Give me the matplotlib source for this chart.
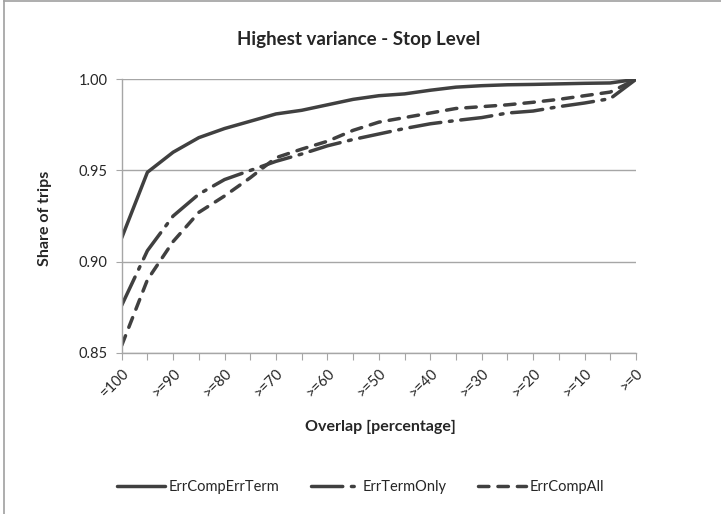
import matplotlib.pyplot as plt
from matplotlib.lines import Line2D

plt.rcParams['font.family'] = ['Lato', 'DejaVu Sans']

# overlap categories, from =100 down to >=0 in steps of 5
overlap = list(range(100, -1, -5))
tick_labels = ["=100" if v == 100 else (">=%d" % v if v % 10 == 0 else "") for v in overlap]

err_comp_err_term = [0.913, 0.949, 0.960, 0.968, 0.973, 0.977, 0.981, 0.983, 0.986, 0.989, 0.991,
                     0.992, 0.994, 0.9957, 0.9965, 0.997, 0.9972, 0.9975, 0.9978, 0.998, 1.0]
err_term_only = [0.876, 0.906, 0.925, 0.937, 0.945, 0.950, 0.955, 0.959, 0.9635, 0.967, 0.970,
                 0.973, 0.9756, 0.9774, 0.979, 0.9815, 0.9826, 0.985, 0.987, 0.9894, 1.0]
err_comp_all = [0.854, 0.890, 0.911, 0.927, 0.936, 0.946, 0.957, 0.9617, 0.966, 0.972, 0.9765,
                0.979, 0.9815, 0.984, 0.985, 0.986, 0.9874, 0.989, 0.991, 0.993, 1.0]

line_col = "#404040"
grid_col = "#a6a6a6"

fig = plt.figure(figsize=(7.21, 5.14), dpi=100)
ax = fig.add_axes([0.1688, 0.3138, 0.7133, 0.5319])

x = list(range(len(overlap)))
ax.plot(x, err_comp_err_term, color=line_col, lw=2.5, solid_capstyle="round",
        solid_joinstyle="round", label="ErrCompErrTerm")
ax.plot(x, err_term_only, color=line_col, lw=2.5, dashes=(9, 2.5, 0.8, 2.5),
        dash_capstyle="round", label="ErrTermOnly")
ax.plot(x, err_comp_all, color=line_col, lw=2.5, dashes=(3, 2.6),
        dash_capstyle="round", label="ErrCompAll")

ax.set_xlim(0, len(overlap) - 1)
ax.set_ylim(0.85, 1.0)
ax.set_yticks([0.85, 0.90, 0.95, 1.00])
ax.set_yticklabels(["0.85", "0.90", "0.95", "1.00"], fontsize=10.5, color="#262626")
ax.set_xticks(x)
ax.set_xticklabels(tick_labels, rotation=45, ha="right", va="top", rotation_mode="anchor",
                   fontsize=10.5, color="#262626")
ax.tick_params(axis="x", length=5, color=grid_col, pad=5)
ax.tick_params(axis="y", length=4, color=grid_col, pad=6)
ax.yaxis.grid(True, color=grid_col, lw=1)
ax.set_axisbelow(True)
for s in ["top", "right"]:
    ax.spines[s].set_visible(False)
for s in ["left", "bottom"]:
    ax.spines[s].set_color(grid_col)
    ax.spines[s].set_linewidth(1)

fig.text(0.497, 0.923, "Highest variance - Stop Level", ha="center", va="center",
         fontsize=13.5, fontweight="bold", color="#262626")
fig.text(0.528, 0.17, "Overlap [percentage]", ha="center", va="center",
         fontsize=11.5, fontweight="bold", color="#262626")
fig.text(0.062, 0.575, "Share of trips", ha="center", va="center", rotation=90,
         fontsize=11.5, fontweight="bold", color="#262626")

leg = fig.legend(loc="center", bbox_to_anchor=(0.5, 0.052), ncol=3, frameon=False,
                 fontsize=10.5, handlelength=3.3, handletextpad=0.2, columnspacing=2.2)
for t in leg.get_texts():
    t.set_color("#262626")

# chart area border
fig.add_artist(Line2D([0.006, 0.006], [0.0, 0.998], color="#a0a0a0", lw=1.2))
fig.add_artist(Line2D([0.006, 1.0], [0.998, 0.998], color="#a0a0a0", lw=1.2))

fig.savefig("out.png", dpi=100)
